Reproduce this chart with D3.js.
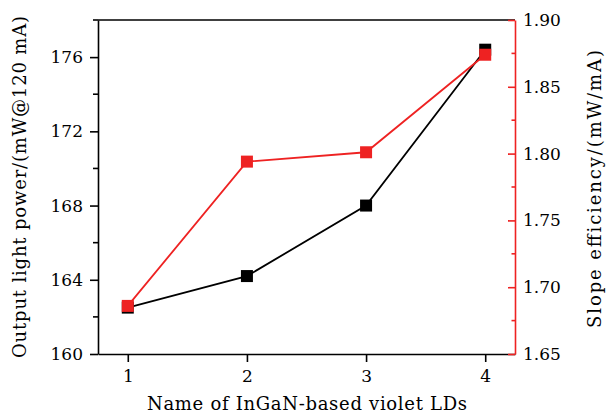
<!DOCTYPE html>
<html><head><meta charset="utf-8">
<script src="https://cdn.jsdelivr.net/npm/d3@7"></script>
<style>body{margin:0;background:#fff}</style>
</head><body><svg id="c" width="606" height="414"></svg>
<script>
const categories = [1, 2, 3, 4];
const powerValues = [162.5, 164.2, 168.0, 176.4];
const slopeValues = [1.686, 1.794, 1.801, 1.874];
const leftTicks = [160, 164, 168, 172, 176];
const leftMinor = [162, 166, 170, 174, 178];
const rightTicks = [1.65, 1.70, 1.75, 1.80, 1.85, 1.90];
const rightMinor = [1.675, 1.725, 1.775, 1.825, 1.875];
const xLabel = "Name of InGaN-based violet LDs";
const leftLabel = "Output light power/(mW@120 mA)";
const rightLabel = "Slope efficiency/(mW/mA)";

const FONT = "'DejaVu Serif', 'Liberation Serif', serif";
const svg = d3.select("#c");
const L = 98, R = 515, T = 20, B = 354;
const x = d3.scaleLinear().domain([0.75, 4.25]).range([L, R]);
const yL = d3.scaleLinear().domain([160, 178]).range([B, T]);
const yR = d3.scaleLinear().domain([1.65, 1.90]).range([B, T]);
const red = "#ee2222";
const SW = 1.6;

svg.append("line").attr("x1", L).attr("x2", R).attr("y1", T).attr("y2", T).attr("stroke", "#000").attr("stroke-width", SW);

// x axis
const gx = svg.append("g").attr("transform", `translate(0,${B})`)
  .call(d3.axisBottom(x).tickValues(categories).tickFormat(d3.format("d")).tickSize(8).tickSizeOuter(0));
gx.select(".domain").attr("stroke-width", SW);
gx.selectAll(".tick line").attr("stroke-width", SW);
gx.selectAll("text").attr("font-size", 17).attr("y", 28).attr("dy", 0).attr("fill", "#000");

// left axis
const gl = svg.append("g").attr("transform", `translate(${L},0)`)
  .call(d3.axisLeft(yL).tickValues(leftTicks).tickSize(8).tickPadding(7).tickSizeOuter(0));
gl.select(".domain").attr("stroke-width", SW);
gl.selectAll(".tick line").attr("stroke-width", SW);
gl.selectAll("text").attr("font-size", 17).attr("fill", "#000");
gl.append("g").selectAll("line").data(leftMinor).join("line")
  .attr("x1", -5).attr("x2", 0).attr("y1", d => yL(d)).attr("y2", d => yL(d)).attr("stroke", "#000").attr("stroke-width", SW);

// right axis (ticks inward)
const gr = svg.append("g").attr("transform", `translate(${R},0)`)
  .call(d3.axisRight(yR).tickValues(rightTicks).tickFormat(d3.format(".2f")).tickSize(-7).tickPadding(15).tickSizeOuter(0));
gr.selectAll(".tick line").attr("stroke", red).attr("stroke-width", SW);
gr.select(".domain").attr("stroke", red).attr("stroke-width", SW).raise();
gr.selectAll("text").attr("font-size", 17).attr("fill", "#000").attr("x", 8);
gr.append("g").selectAll("line").data(rightMinor).join("line")
  .attr("x1", -3.5).attr("x2", 0).attr("y1", d => yR(d)).attr("y2", d => yR(d)).attr("stroke", red).attr("stroke-width", SW);

svg.selectAll("g").attr("font-family", FONT);

svg.append("text").attr("x", 307).attr("y", 410).attr("text-anchor", "middle").attr("font-size", 18)
  .attr("font-family", FONT).attr("textLength", 320).attr("lengthAdjust", "spacing").text(xLabel);
svg.append("text").attr("transform", `translate(26,187) rotate(-90)`).attr("text-anchor", "middle").attr("font-size", 18)
  .attr("font-family", FONT).attr("textLength", 342).attr("lengthAdjust", "spacing").text(leftLabel);
svg.append("text").attr("transform", `translate(601,189) rotate(-90)`).attr("text-anchor", "middle").attr("font-size", 18)
  .attr("font-family", FONT).attr("textLength", 278).attr("lengthAdjust", "spacing").text(rightLabel);

// black series
const lineL = d3.line().x((d, i) => x(categories[i])).y(d => yL(d));
svg.append("path").attr("d", lineL(powerValues)).attr("fill", "none").attr("stroke", "#000").attr("stroke-width", 1.8);
const s = 12;
svg.append("g").selectAll("rect").data(powerValues).join("rect")
  .attr("x", (d, i) => x(categories[i]) - s / 2).attr("y", d => yL(d) - s / 2)
  .attr("width", s).attr("height", s).attr("fill", "#000");

// red series
const lineR = d3.line().x((d, i) => x(categories[i])).y(d => yR(d));
svg.append("path").attr("d", lineR(slopeValues)).attr("fill", "none").attr("stroke", red).attr("stroke-width", 1.8);
svg.append("g").selectAll("rect").data(slopeValues).join("rect")
  .attr("x", (d, i) => x(categories[i]) - s / 2).attr("y", d => yR(d) - s / 2)
  .attr("width", s).attr("height", s).attr("fill", red);
</script></body></html>
